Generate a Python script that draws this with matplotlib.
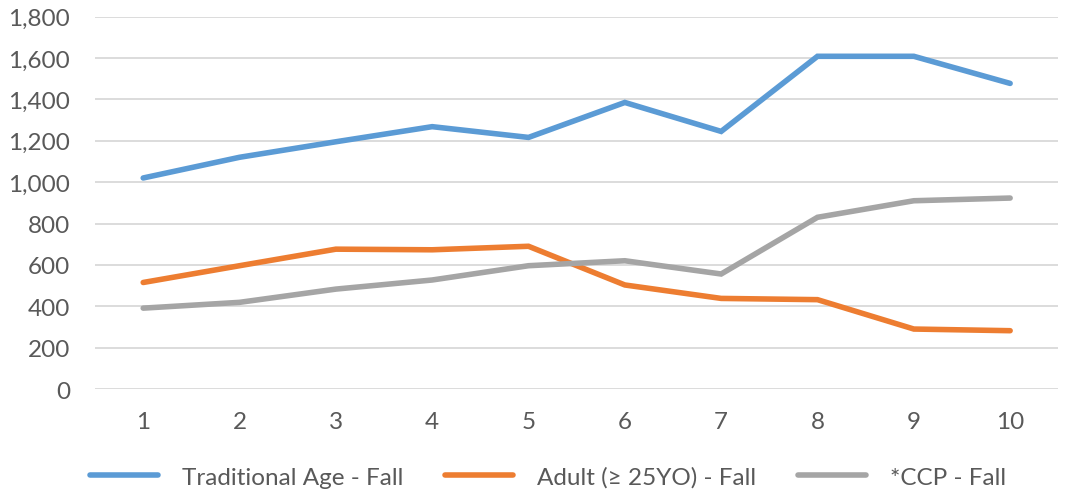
import matplotlib.pyplot as plt
from matplotlib.ticker import FuncFormatter

years = list(range(1, 11))
traditional = [1020, 1120, 1195, 1268, 1216, 1385, 1245, 1608, 1608, 1477]
adult = [515, 596, 676, 673, 690, 503, 438, 432, 290, 282]
ccp = [391, 419, 483, 527, 596, 620, 556, 830, 910, 923]

labels = ["Traditional Age - Fall", "Adult (\u2265 25YO) - Fall", "*CCP - Fall"]
colors = ["#5B9BD5", "#ED7D31", "#A5A5A5"]

plt.rcParams["font.family"] = ["Lato", "DejaVu Sans"]

fig = plt.figure(figsize=(10.69, 5.02), dpi=100)
ax = fig.add_axes([0.0889, 0.223, 0.9011, 0.742])

for vals, lab, col in zip([traditional, adult, ccp], labels, colors):
    ax.plot(years, vals, color=col, linewidth=4.0, label=lab,
            solid_capstyle="round", solid_joinstyle="miter")

ax.set_xlim(0.5, 10.5)
ax.set_ylim(0, 1800)
ax.set_yticks(range(0, 1801, 200))
ax.set_xticks(years)
ax.yaxis.set_major_formatter(FuncFormatter(lambda v, p: f"{int(v):,}"))
ax.grid(axis="y", color="#D9D9D9", linewidth=1.3)
ax.set_axisbelow(True)
for s in ax.spines.values():
    s.set_visible(False)
ax.tick_params(length=0, labelsize=17.5, labelcolor="#595959")
ax.tick_params(axis="y", pad=18)
ax.tick_params(axis="x", pad=16)

fig.legend(loc="center", bbox_to_anchor=(548 / 1069, 1 - 478 / 502), ncol=3,
           frameon=False, fontsize=17.5, handlelength=2.8, handletextpad=1.0,
           columnspacing=1.7, labelcolor="#595959")

fig.savefig("out.png", dpi=100)
